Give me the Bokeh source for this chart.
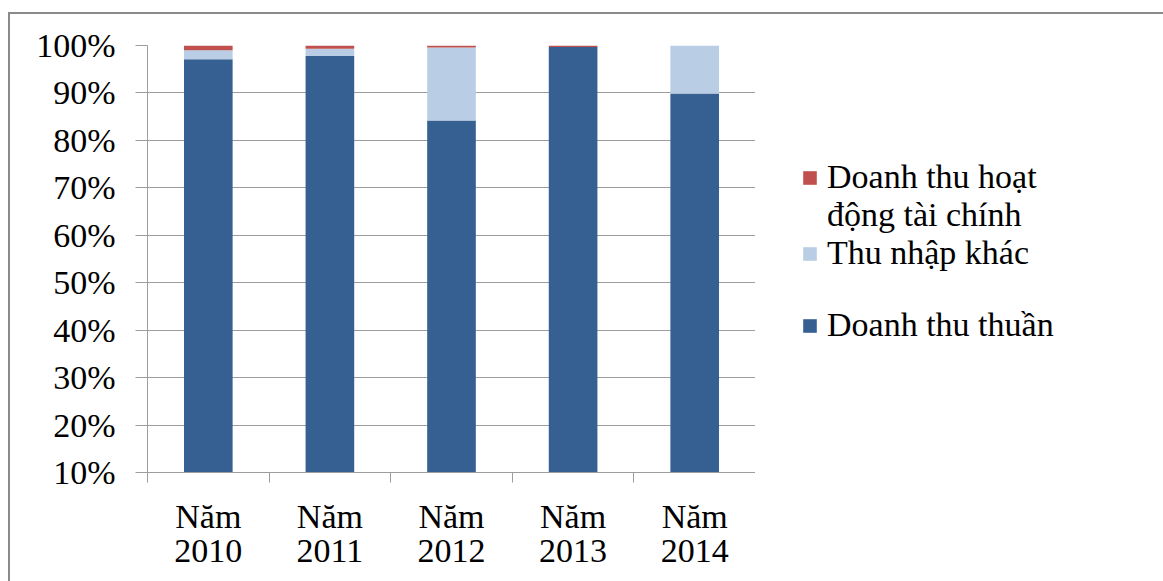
from bokeh.plotting import figure
from bokeh.layouts import row
from bokeh.models import Range1d, FixedTicker, ColumnDataSource, Legend, LegendItem, LinearAxis
from bokeh.embed import file_html
from bokeh.resources import INLINE

# ---- data ----
years = ["2010", "2011", "2012", "2013", "2014"]
x_top_labels = ["Năm", "Năm", "Năm", "Năm", "Năm"]
doanh_thu_thuan = [97.1, 97.8, 84.2, 99.7, 89.9]
thu_nhap_khac = [1.9, 1.5, 15.4, 0.0, 10.1]
doanh_thu_hdtc = [1.0, 0.7, 0.4, 0.3, 0.0]
y_ticks = [10, 20, 30, 40, 50, 60, 70, 80, 90, 100]
y_tick_labels = ["10%", "20%", "30%", "40%", "50%", "60%", "70%", "80%", "90%", "100%"]
series_names = ["Doanh thu thuần", "Thu nhập khác", "Doanh thu hoạt động tài chính"]
colors = ["#376092", "#B9CDE5", "#C0504D"]

FONT = "Liberation Serif"
FS = "34px"
GRAY = "#9d9d9d"

# canvas placed at window (10, 14) because of the CSS border/margin
W1, W2, H = 745, 408, 567
FL, FT, FB = 137, 31, 458  # frame edges in canvas px

xs = [i + 0.5 for i in range(len(years))]
stack_cols = ["dtt", "tnk", "hdtc"]
src = ColumnDataSource(dict(x=xs, dtt=doanh_thu_thuan, tnk=thu_nhap_khac, hdtc=doanh_thu_hdtc))

p = figure(width=W1, height=H, output_backend="svg", toolbar_location=None,
           x_range=Range1d(0, len(years)), y_range=Range1d(10, 100),
           min_border_left=FL, min_border_right=0, min_border_top=FT, min_border_bottom=H - FB)
p.outline_line_color = None
p.background_fill_color = "white"
p.border_fill_color = "white"

rs = p.vbar_stack(stack_cols, x="x", width=0.4, source=src,
                  fill_color=colors, line_color=None)

# y axis
ya = p.yaxis[0]
ya.ticker = FixedTicker(ticks=y_ticks, minor_ticks=[])
ya.major_label_overrides = {t: l for t, l in zip(y_ticks, y_tick_labels)}
ya.major_tick_out = 12
ya.major_tick_in = 0
ya.minor_tick_out = 0
ya.minor_tick_in = 0
ya.axis_line_color = GRAY
ya.major_tick_line_color = GRAY
ya.major_label_text_font = FONT
ya.major_label_text_font_size = FS
ya.major_label_text_color = "black"
ya.major_label_standoff = 20

# x axis: first line ("Năm") with category boundary ticks
xa = p.xaxis[0]
xa.ticker = FixedTicker(ticks=xs, minor_ticks=list(range(len(years) + 1)))
xa.major_label_overrides = {x: l for x, l in zip(xs, x_top_labels)}
xa.major_tick_out = 0
xa.major_tick_in = 0
xa.minor_tick_out = 10
xa.minor_tick_in = 0
xa.minor_tick_line_color = GRAY
xa.axis_line_color = GRAY
xa.major_label_text_font = FONT
xa.major_label_text_font_size = FS
xa.major_label_text_color = "black"
xa.major_label_standoff = 15

# x axis: second line (years)
xa2 = LinearAxis(ticker=FixedTicker(ticks=xs, minor_ticks=[]),
                 major_label_overrides={x: y for x, y in zip(xs, years)})
xa2.axis_line_color = None
xa2.major_tick_line_color = None
xa2.minor_tick_line_color = None
xa2.major_tick_out = 0
xa2.major_tick_in = 0
xa2.major_label_text_font = FONT
xa2.major_label_text_font_size = FS
xa2.major_label_text_color = "black"
xa2.major_label_standoff = 2
p.add_layout(xa2, "below")

p.xgrid.grid_line_color = None
p.ygrid.ticker = FixedTicker(ticks=y_ticks)
p.ygrid.grid_line_color = GRAY
p.ygrid.grid_line_width = 1

# ---- legend panel (separate figure to the right; its ranges keep the proxy bars out of view) ----
p2 = figure(width=W2, height=H, output_backend="svg", toolbar_location=None,
            x_range=Range1d(-20, -10), y_range=Range1d(-20, -10),
            x_axis_location=None, y_axis_location=None,
            min_border_left=0, min_border_right=0, min_border_top=FT, min_border_bottom=H - FB)
p2.outline_line_color = None
p2.grid.visible = False
p2.background_fill_color = "white"
p2.border_fill_color = "white"

lg = [p2.vbar(x="x", top=col, width=0.4, source=src, fill_color=c, line_color=None)
      for col, c in zip(stack_cols, colors)]
blank = p2.vbar(x="x", top="dtt", width=0.4, source=src, fill_alpha=0, line_alpha=0)

items = [
    LegendItem(label="Doanh thu hoạt", renderers=[lg[2]]),
    LegendItem(label="động tài chính", renderers=[blank]),
    LegendItem(label=series_names[1], renderers=[lg[1]]),
    LegendItem(label=" ", renderers=[blank]),
    LegendItem(label=" ", renderers=[blank]),
    LegendItem(label=series_names[0], renderers=[lg[0]]),
]
legend = Legend(items=items, location=(46, 128), orientation="vertical",
                glyph_width=17, glyph_height=17, label_standoff=9,
                padding=0, margin=0, spacing=0,
                label_text_font=FONT, label_text_font_size=FS, label_text_color="black",
                border_line_color=None, background_fill_alpha=0)
p2.add_layout(legend)

layout = row(p, p2)
layout.styles = {"margin-left": "8px", "margin-top": "12px",
                 "border-left": "2px solid #8a8a8a", "border-top": "2px solid #8a8a8a"}

open("out.html", "w").write(file_html(layout, INLINE))
